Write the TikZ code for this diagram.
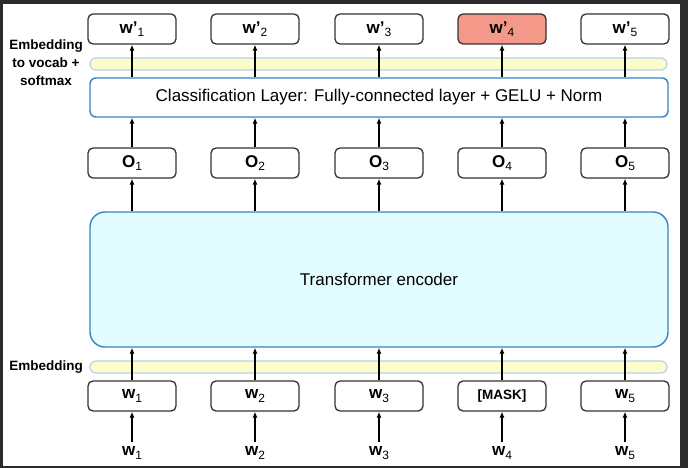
\documentclass[tikz,border=0pt]{standalone}
\usepackage{fontspec}
\setmainfont{Liberation Sans}
\usetikzlibrary{arrows.meta}
\definecolor{framec}{HTML}{2B2B2B}
\definecolor{boxc}{HTML}{333333}
\definecolor{bluec}{HTML}{3A82C4}
\definecolor{barline}{HTML}{B4D2EA}
\definecolor{baryel}{HTML}{FDFDCB}
\definecolor{encfill}{HTML}{E2FDFF}
\definecolor{salmon}{HTML}{F4998A}
\newcommand{\lbl}[2]{\textbf{#1}\raisebox{-0.35ex}{\fontsize{12}{12}\selectfont #2}}
\begin{document}
\begin{tikzpicture}[x=1pt,y=-1pt,
  tok/.style={draw=boxc, line width=1.3pt, rounded corners=5pt, fill=white,
    minimum width=88pt, minimum height=30pt, inner sep=0pt,
    font=\fontsize{17}{17}\selectfont},
  bar/.style={draw=barline, fill=baryel, line width=1.2pt, rounded corners=6pt,
    minimum width=577pt, minimum height=12pt, inner sep=0pt},
  bigbox/.style={draw=bluec, line width=1.4pt, minimum width=578pt, inner sep=0pt,
    font=\fontsize{17}{17}\selectfont},
  arr/.style={-{Latex[length=6pt,width=5pt]}, line width=1.2pt, draw=black},
  side/.style={font=\fontsize{13.5}{18}\selectfont\bfseries, align=center, inner sep=0pt},
  inlbl/.style={font=\fontsize{17}{17}\selectfont, inner sep=0pt}]
\fill[framec] (0,0) rectangle (688,468);
\fill[white] (3,4) rectangle (680,466);
% bars
\node[bar] (vbar) at (378.5,64) {};
\node[bar] (ebar) at (378.5,367) {};
% big boxes
\node[bigbox, fill=white, rounded corners=6pt, minimum height=39pt] (cls) at (379,97.5)
  {Classification Layer: Fully-connected layer + GELU + Norm};
\node[bigbox, fill=encfill, rounded corners=15pt, minimum height=135pt] (enc) at (379,279.5)
  {Transformer encoder};
% side labels
\node[side] (lab1) at (46,63) {Embedding\\to vocab +\\softmax};
\node[side] (lab2) at (46,367) {Embedding};
% columns
\foreach \i/\x in {1/132,2/255,3/379,4/502,5/625}{
  \node[tok] (o\i) at (\x,163) {\lbl{O}{\i}};
  \node[inlbl] (b\i) at (\x,453) {\lbl{w}{\i}};
}
\foreach \i/\x in {1/132,2/255,3/379,5/625}{
  \node[tok] (t\i) at (\x,29) {\lbl{w’}{\i}};
}
\node[tok, fill=salmon] (t4) at (502,29) {\lbl{w’}{4}};
\foreach \i/\x in {1/132,2/255,3/379,5/625}{
  \node[tok] (m\i) at (\x,396) {\lbl{w}{\i}};
}
\node[tok, font=\fontsize{13.5}{13.5}\selectfont\bfseries] (m4) at (502,396) {[MASK]};
% arrows
\foreach \i in {1,...,5}{
  \draw[arr] (b\i.north |- 0,442) -- (m\i.south);
  \draw[arr] (m\i.north) -- (m\i.north |- enc.south);
  \draw[arr] (o\i.north |- enc.north) -- (o\i.south);
  \draw[arr] (o\i.north) -- (o\i.north |- cls.south);
  \draw[arr] (t\i.south |- cls.north) -- (t\i.south);
}
\end{tikzpicture}
\end{document}
